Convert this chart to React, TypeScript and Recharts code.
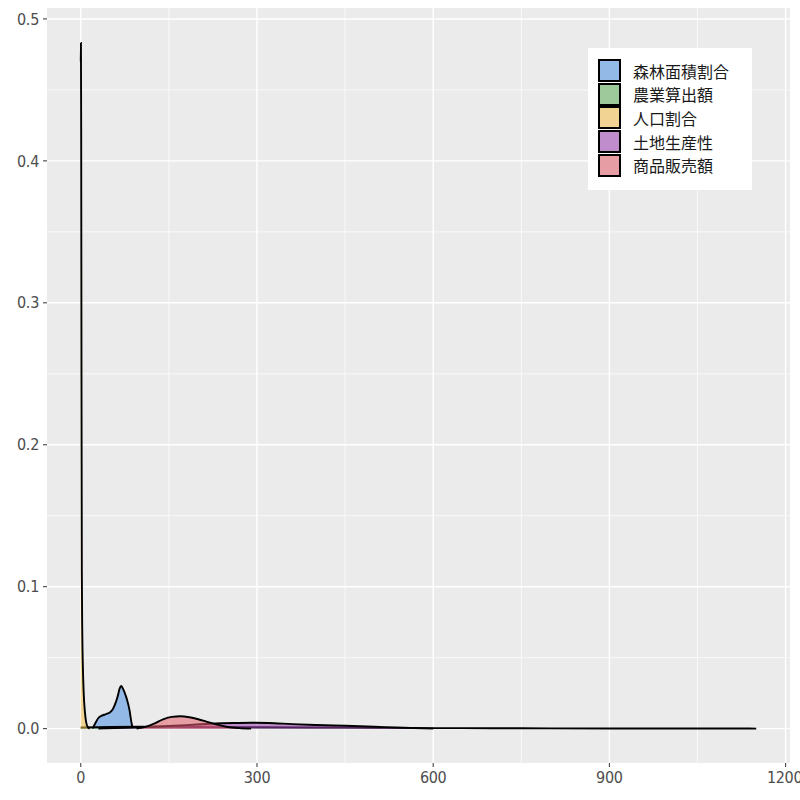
import { ComposedChart, Area, XAxis, YAxis, CartesianGrid } from 'recharts';

// density curves (x = value, d = density)
const forestX = [20, 25, 30, 35, 40, 45, 50, 55, 60, 63, 66, 69, 72, 75, 79, 83, 86, 88];
const forestD = [0, 0.004, 0.0075, 0.009, 0.0098, 0.0105, 0.0115, 0.014, 0.019, 0.023, 0.028, 0.03, 0.028, 0.025, 0.02, 0.013, 0.005, 0.001];

const agriX = [0, 50, 100, 200, 300, 400, 500, 600, 700, 800, 900, 1000, 1100, 1150];
const agriD = [0.0008, 0.0012, 0.0013, 0.0012, 0.001, 0.0008, 0.0006, 0.0004, 0.0003, 0.0002, 0.00015, 0.0001, 0.00008, 0.00005];

const popX = [0, 0.3, 0.7, 1.2, 1.8, 2.5, 3.5, 5, 7, 9, 12, 15];
const popD = [0.47, 0.483, 0.42, 0.25, 0.11, 0.07, 0.045, 0.025, 0.012, 0.005, 0.001, 0];

const landX = [30, 60, 100, 140, 180, 220, 260, 290, 320, 360, 400, 450, 500, 550, 600];
const landD = [0, 0.0004, 0.001, 0.0017, 0.0025, 0.0034, 0.004, 0.0042, 0.004, 0.0032, 0.0026, 0.002, 0.0013, 0.0006, 0];

const salesX = [95, 110, 125, 140, 155, 170, 185, 200, 215, 230, 250, 270, 290];
const salesD = [0, 0.0012, 0.0035, 0.0065, 0.0083, 0.0087, 0.008, 0.0066, 0.0048, 0.003, 0.0012, 0.0004, 0];

const seriesNames = ['森林面積割合', '農業算出額', '人口割合', '土地生産性', '商品販売額'];
const seriesColors = ['#4a90e2', '#5fae5a', '#f5c04a', '#9b3fb0', '#e35d6a'];

const xTicks = [0, 300, 600, 900, 1200];
const xMinor = [150, 450, 750, 1050];
const yTicks = [0, 0.1, 0.2, 0.3, 0.4, 0.5];
const yMinor = [0.05, 0.15, 0.25, 0.35, 0.45];

const toRows = (xs: number[], ds: number[]) => xs.map((x, i) => ({ x, d: ds[i] }));
const series = [
  toRows(forestX, forestD),
  toRows(agriX, agriD),
  toRows(popX, popD),
  toRows(landX, landD),
  toRows(salesX, salesD),
];

const tickFont = {
  fontSize: 16,
  fill: '#4d4d4d',
  fontFamily: "'DejaVu Sans Condensed', 'DejaVu Sans', sans-serif",
  letterSpacing: -0.3,
};

function LegendBox() {
  return (
    <div style={{ position: 'absolute', left: 588, top: 48, background: '#fff', width: 164, height: 142, boxSizing: 'border-box', padding: '11px 0 0 10px' }}>
      {seriesNames.map((n, i) => (
        <div key={n} style={{ display: 'flex', alignItems: 'center', height: 23.6 }}>
          <div style={{ width: 23, height: 23, background: '#ebebeb', position: 'relative' }}>
            <div style={{ position: 'absolute', inset: 0, background: seriesColors[i], opacity: 0.55 }} />
            <div style={{ position: 'absolute', inset: 0, border: '2px solid #000' }} />
          </div>
          <span style={{ marginLeft: 12, fontSize: 16, color: '#1a1a1a', fontFamily: "'Noto Sans CJK JP', sans-serif" }}>{n}</span>
        </div>
      ))}
    </div>
  );
}

export default function App() {
  return (
    <div style={{ position: 'absolute', left: 0, top: 0, width: 800, height: 800 }}>
      <ComposedChart width={800} height={800} margin={{ top: 8, right: 10, bottom: 7, left: 7 }}>
        <CartesianGrid fill="#ebebeb" stroke="#fff" strokeWidth={0.7} verticalValues={xMinor} horizontalValues={yMinor} />
        <CartesianGrid stroke="#fff" strokeWidth={1.4} verticalValues={xTicks} horizontalValues={yTicks} />
        <XAxis
          type="number"
          dataKey="x"
          domain={[-57.5, 1207.5]}
          ticks={xTicks}
          allowDataOverflow
          height={30}
          axisLine={false}
          tickSize={4}
          tickMargin={5}
          tickLine={{ stroke: '#333' }}
          tick={tickFont}
        />
        <YAxis
          type="number"
          dataKey="d"
          domain={[-0.0242, 0.5077]}
          ticks={yTicks}
          allowDataOverflow
          width={40}
          axisLine={false}
          tickSize={4}
          tickMargin={4}
          tickLine={{ stroke: '#333' }}
          tick={tickFont}
          tickFormatter={(v) => Number(v).toFixed(1)}
        />
        {series.map((rows, i) => (
          <Area
            key={seriesNames[i]}
            data={rows}
            dataKey="d"
            name={seriesNames[i]}
            type="monotone"
            baseValue={0}
            fill={seriesColors[i]}
            fillOpacity={0.55}
            stroke="#000"
            strokeWidth={1.9}
            dot={false}
            activeDot={false}
            isAnimationActive={false}
          />
        ))}
      </ComposedChart>
      <LegendBox />
    </div>
  );
}
